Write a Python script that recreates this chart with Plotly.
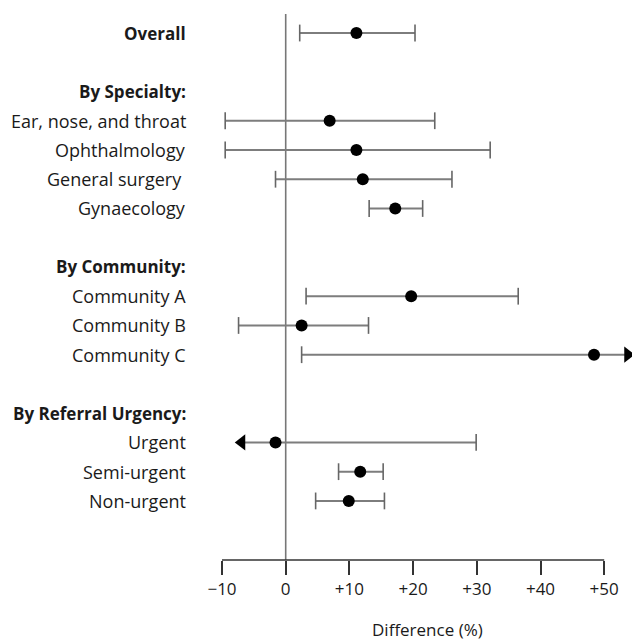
import plotly.graph_objects as go

# ---- data ----
groups = ["", "By Specialty:", "By Community:", "By Referral Urgency:"]
labels = [
    ["Overall"],
    ["Ear, nose, and throat", "Ophthalmology", "General surgery ", "Gynaecology"],
    ["Community A", "Community B", "Community C"],
    ["Urgent", "Semi-urgent", "Non-urgent"],
]
estimates = [
    [11.1],
    [6.9, 11.1, 12.1, 17.2],
    [19.7, 2.5, 48.4],
    [-1.6, 11.7, 9.9],
]
lower = [
    [2.2],
    [-9.5, -9.5, -1.6, 13.1],
    [3.2, -7.4, 2.5],
    [-6.9, 8.3, 4.7],
]
upper = [
    [20.3],
    [23.4, 32.1, 26.1, 21.5],
    [36.5, 13.0, 53.7],
    [29.9, 15.3, 15.5],
]
# True where the interval runs off the scale (drawn as an arrow)
lower_open = [[False], [False] * 4, [False] * 3, [True, False, False]]
upper_open = [[False], [False] * 4, [False, False, True], [False] * 3]

x_ticks = [-10, 0, 10, 20, 30, 40, 50]
x_tick_text = ["\u221210", "0", "+10", "+20", "+30", "+40", "+50"]
x_title = "Difference (%)"

# ---- layout of rows ----
row_y, row_text, row_bold = [], [], []
pt_x, pt_y = [], []
cap_x, cap_y, arr_l_x, arr_l_y, arr_r_x, arr_r_y = [], [], [], [], [], []
line_x, line_y = [], []
pos = 0
for g, (head, labs) in enumerate(zip(groups, labels)):
    if g > 0:
        pos += 1  # blank spacer row
    if head:
        row_y.append(pos); row_text.append(head); row_bold.append(True)
        pos += 1
    for k, lab in enumerate(labs):
        row_y.append(pos); row_text.append(lab); row_bold.append(g == 0)
        e, lo, hi = estimates[g][k], lower[g][k], upper[g][k]
        pt_x.append(e); pt_y.append(pos)
        line_x += [lo, hi, None]; line_y += [pos, pos, None]
        if lower_open[g][k]:
            arr_l_x.append(lo); arr_l_y.append(pos)
        else:
            cap_x.append(lo); cap_y.append(pos)
        if upper_open[g][k]:
            arr_r_x.append(hi); arr_r_y.append(pos)
        else:
            cap_x.append(hi); cap_y.append(pos)
        pos += 1

LINE = "#7d7d7d"
fig = go.Figure()
fig.add_trace(go.Scatter(x=line_x, y=line_y, mode="lines",
                         line=dict(color=LINE, width=2), hoverinfo="skip"))
fig.add_trace(go.Scatter(x=cap_x, y=cap_y, mode="markers",
                         marker=dict(symbol="line-ns", size=12,
                                     line=dict(color="#666666", width=1.6)),
                         hoverinfo="skip"))
fig.add_trace(go.Scatter(x=pt_x, y=pt_y, mode="markers",
                         marker=dict(symbol="circle", size=12, color="black")))
fig.add_trace(go.Scatter(x=arr_l_x, y=arr_l_y, mode="markers",
                         marker=dict(symbol="triangle-left", size=14, color="black")))
fig.add_trace(go.Scatter(x=arr_r_x, y=arr_r_y, mode="markers",
                         marker=dict(symbol="triangle-right", size=14, color="black"),
                         cliponaxis=False))

FONT = "Open Sans"
for yv, t, b in zip(row_y, row_text, row_bold):
    fig.add_annotation(x=0, xref="paper", y=yv, yref="y", xanchor="right",
                       yanchor="middle", xshift=-34, showarrow=False,
                       text=f"<b>{t}</b>" if b else t,
                       font=dict(family=FONT, size=17 if b else 18, color="#1a1a1a"))

fig.add_annotation(x=0.5, xref="paper", y=0, yref="paper", yanchor="middle",
                   yshift=-69, showarrow=False, text=x_title,
                   font=dict(family=FONT, size=17, color="#1a1a1a"))

# zero line and axis line
fig.add_shape(type="line", x0=0, x1=0, xref="x", y0=0, y1=1, yref="paper",
              line=dict(color="#777777", width=1.6), layer="below")
fig.add_shape(type="line", x0=x_ticks[0], x1=x_ticks[-1], xref="x", y0=0, y1=0,
              yref="paper", line=dict(color="#333333", width=1.6))

px_per_unit = 6.37
left_px, right_px = 222, 632
x_range = [x_ticks[0], x_ticks[0] + (right_px - left_px) / px_per_unit]

fig.update_layout(
    width=632, height=641,
    margin=dict(l=left_px, r=0, t=14, b=81),
    plot_bgcolor="white", paper_bgcolor="white",
    showlegend=False,
    xaxis=dict(range=x_range, tickvals=x_ticks, ticktext=x_tick_text,
               ticks="outside", ticklen=14, tickwidth=1.6, tickcolor="#333333",
               showline=False, showgrid=False, zeroline=False,
               tickfont=dict(family=FONT, size=17, color="#1a1a1a")),
    yaxis=dict(range=[18.02, -0.65], showticklabels=False, showgrid=False,
               zeroline=False, showline=False, ticks=""),
)

fig.write_html("out.html",
               config={"displayModeBar": False},
               post_script="document.body.style.margin='0px';"
                           "document.body.style.overflow='hidden';")
